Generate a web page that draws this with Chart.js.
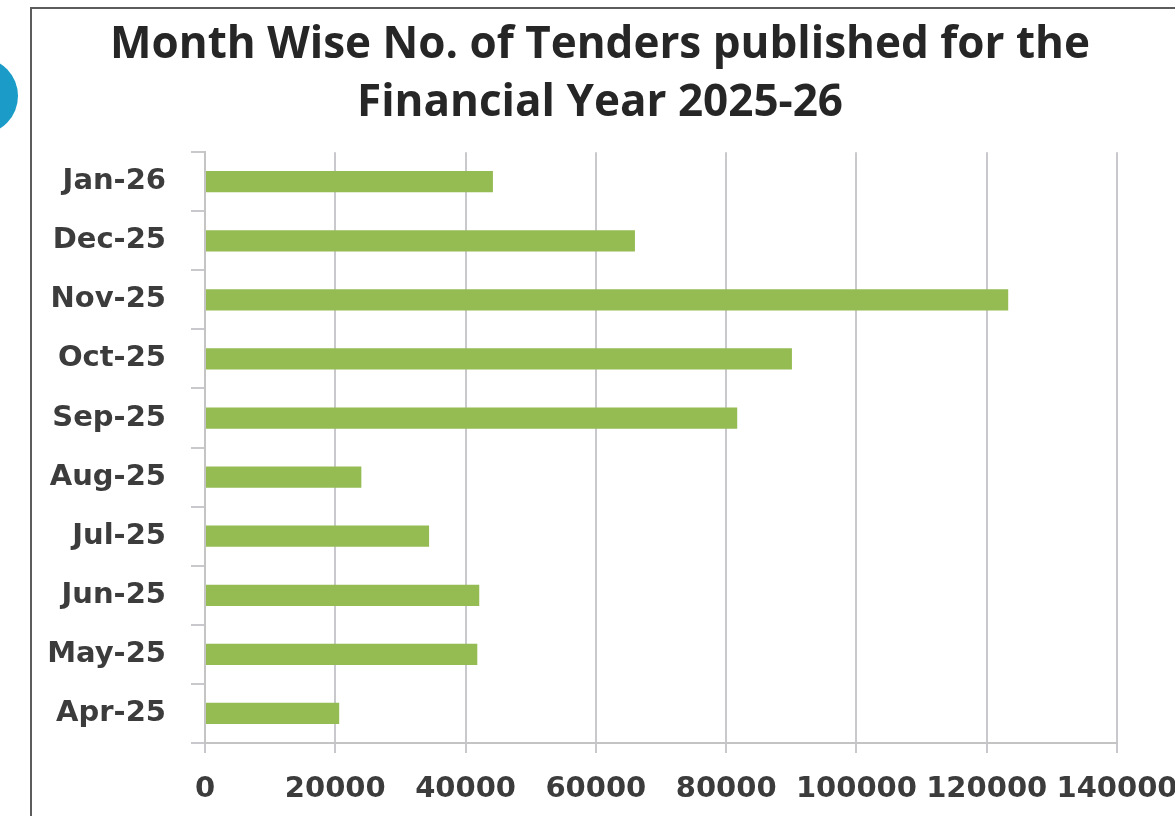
<!DOCTYPE html>
<html>
<head>
<meta charset="utf-8">
<script src="https://cdn.jsdelivr.net/npm/chart.js@4"></script>
<style>
  html, body { margin: 0; padding: 0; background: #fff; overflow: hidden; width: 1175px; height: 816px; }
  #frame { position: absolute; left: 30px; top: 7px; width: 1300px; height: 1000px; border: 2px solid #5c5c5c; }
  #blob { position: absolute; left: -56px; top: 58px; width: 74px; height: 76px; border-radius: 50%; background: #1b9cc8; }
  #tenders-chart { position: absolute; left: 0; top: 0; }
</style>
</head>
<body>
<div id="blob"></div>
<div id="frame"></div>
<canvas id="tenders-chart" width="1200" height="816"></canvas>
<script>
const months = ['Jan-26', 'Dec-25', 'Nov-25', 'Oct-25', 'Sep-25', 'Aug-25', 'Jul-25', 'Jun-25', 'May-25', 'Apr-25'];
const tendersPublished = [44200, 66000, 123300, 90100, 81700, 24000, 34400, 42100, 41800, 20600];
const xTicks = [0, 20000, 40000, 60000, 80000, 100000, 120000, 140000];
const chartTitle = ['Month Wise No. of Tenders published for the', 'Financial Year 2025-26'];

const labelFont = { family: 'DejaVu Sans', size: 29, weight: 'bold' };

// horizontal bar chart, first month at the top
const tendersChart = new Chart(document.getElementById('tenders-chart'), {
  type: 'bar',
  data: {
    labels: months,
    datasets: [
      {
        label: 'Tenders',
        data: tendersPublished,
        backgroundColor: '#95bb53',
        borderWidth: 0,
        barPercentage: 0.36,
        categoryPercentage: 1,
      },
    ],
  },
  options: {
    indexAxis: 'y',
    responsive: false,
    animation: false,
    devicePixelRatio: 1,
    layout: { padding: 0 },
    plugins: {
      legend: { display: false },
      tooltip: { enabled: false },
      title: {
        display: true,
        text: chartTitle,
        color: '#262626',
        font: { family: 'Open Sans', size: 44, weight: 'bold', lineHeight: 1.32 },
        padding: { top: 16, bottom: 20 },
      },
    },
    scales: {
      x: {
        min: xTicks[0],
        max: xTicks[xTicks.length - 1],
        afterBuildTicks: scale => { scale.ticks = xTicks.map(v => ({ value: v })); },
        afterFit: scale => { scale.height = 73; },
        grid: { color: '#c9c9cd', lineWidth: 2, tickLength: 10 },
        border: { color: '#c4c4c4', width: 2 },
        ticks: { autoSkip: false, maxRotation: 0, padding: 19, color: '#3c3c3c', font: labelFont, callback: v => String(v) },
      },
      y: {
        afterFit: scale => { scale.width = 205; },
        grid: { drawOnChartArea: false, color: '#c9c9cd', lineWidth: 2, tickLength: 14 },
        border: { color: '#c4c4c4', width: 2 },
        ticks: { padding: 25, color: '#3c3c3c', font: labelFont },
      },
      // empty right axis: keeps the plot ending at 140000 while the title stays centred
      spacer: {
        type: 'linear',
        position: 'right',
        afterFit: scale => { scale.width = 83; },
        grid: { display: false },
        border: { display: false },
        ticks: { display: false },
      },
    },
  },
});
</script>
</body>
</html>
